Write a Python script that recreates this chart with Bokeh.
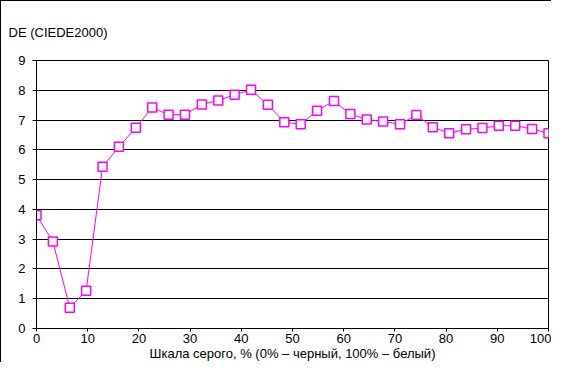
from bokeh.plotting import figure
from bokeh.models import Range1d, FixedTicker, Title
from bokeh.embed import file_html
from bokeh.resources import INLINE

gray_pct = [0, 3.2, 6.5, 9.7, 12.9, 16.1, 19.4, 22.6, 25.8, 29.0, 32.3, 35.5,
            38.7, 41.9, 45.2, 48.4, 51.6, 54.8, 58.1, 61.3, 64.5, 67.7, 71.0,
            74.2, 77.4, 80.6, 83.9, 87.1, 90.3, 93.5, 96.8, 100]
de_values = [3.80, 2.92, 0.70, 1.27, 5.43, 6.10, 6.74, 7.42, 7.18, 7.18, 7.52,
             7.66, 7.85, 8.02, 7.51, 6.93, 6.86, 7.31, 7.64, 7.20, 7.02, 6.95,
             6.86, 7.17, 6.76, 6.56, 6.69, 6.73, 6.81, 6.81, 6.70, 6.56]
x_ticks = [0, 10, 20, 30, 40, 50, 60, 70, 80, 90, 100]
y_ticks = [0, 1, 2, 3, 4, 5, 6, 7, 8, 9]
y_title = "DE (CIEDE2000)"
x_title = "Шкала серого, % (0% – черный, 100% – белый)"

FONT = "Liberation Sans"

p = figure(width=551, height=362, output_backend="svg", toolbar_location=None,
           x_range=Range1d(0, 100), y_range=Range1d(0, 9),
           min_border_left=35, min_border_right=4, min_border_top=59,
           min_border_bottom=35)
p.styles = {"border-left": "1px solid black", "border-top": "1px solid black"}
p.background_fill_color = "white"
p.border_fill_color = "white"
p.outline_line_color = "black"
p.outline_line_width = 1

t = Title(text=y_title, align="left", offset=-28,
          text_font=FONT, text_font_size="13px", text_font_style="normal",
          text_color="black", standoff=42)
p.add_layout(t, "above")

p.line(gray_pct, de_values, line_color="#FF00FF", line_width=1)
p.scatter(gray_pct, de_values, marker="square", size=9, fill_color="white",
          line_color="#FF00FF", line_width=1.5)

p.xaxis.ticker = FixedTicker(ticks=x_ticks)
p.yaxis.ticker = FixedTicker(ticks=y_ticks)
p.xaxis.axis_label = x_title
for ax in (p.xaxis, p.yaxis):
    ax.axis_line_color = "black"
    ax.major_tick_line_color = "black"
    ax.major_tick_out = 4
    ax.major_tick_in = 0
    ax.minor_tick_line_color = None
    ax.major_label_text_font = FONT
    ax.major_label_text_font_size = "13px"
    ax.major_label_text_color = "black"
    ax.axis_label_text_font = FONT
    ax.axis_label_text_font_size = "13px"
    ax.axis_label_text_font_style = "normal"
    ax.axis_label_text_color = "black"
p.yaxis.major_label_standoff = 7
p.xaxis.major_tick_out = 3
p.xaxis.major_label_standoff = 2
p.xaxis.axis_label_standoff = 0

p.xgrid.grid_line_color = None
p.ygrid.grid_line_color = "black"
p.ygrid.grid_line_width = 1
p.ygrid.grid_line_alpha = 1.0

open("out.html", "w").write(file_html(p, INLINE))
